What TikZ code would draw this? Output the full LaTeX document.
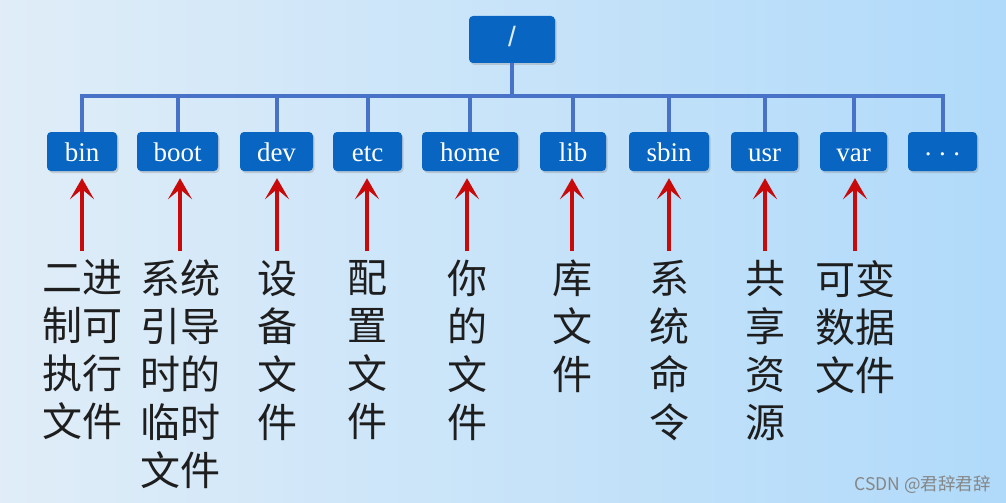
\documentclass[tikz,border=0pt]{standalone}
\usepackage{fontspec}
\setmainfont{Liberation Serif}
\newfontfamily\cjk{Noto Sans CJK SC}
\newfontfamily\slashfont{Liberation Sans}
\usetikzlibrary{arrows.meta,shadows}
\definecolor{boxblue}{RGB}{8,102,194}
\definecolor{linkblue}{RGB}{72,114,200}
\definecolor{arrowred}{RGB}{200,10,10}
\definecolor{txtdark}{RGB}{30,30,30}
\definecolor{bgL}{RGB}{224,237,248}
\definecolor{bgR}{RGB}{176,218,250}
\begin{document}
\begin{tikzpicture}[x=1pt,y=-1pt,
  dirbox/.style={draw=none, fill=boxblue, rounded corners=4pt, inner sep=0pt,
    minimum height=39pt, text=white, font=\fontsize{27}{30}\selectfont,
    text height=19pt, text depth=0pt,
    drop shadow={shadow xshift=1.5pt, shadow yshift=-2pt, opacity=0.3}},
  link/.style={draw=linkblue, line width=4pt},
  upar/.style={draw=arrowred, line width=4pt,
    -{Stealth[length=21pt,width=24pt,inset=10pt]},
    shorten >=7pt, shorten <=9pt},
  desc/.style={anchor=north, align=center, inner sep=0pt, text=txtdark,
    font=\cjk\fontsize{40}{48}\selectfont}
]
\shade[left color=bgL, right color=bgR] (0,0) rectangle (1006,503);
\useasboundingbox (0,0) rectangle (1006,503);

% root
\node[dirbox, minimum width=86pt, minimum height=47pt, text height=14pt,
  font=\slashfont\fontsize{28}{30}\selectfont, text=white!88!boxblue] (root) at (512,39.5) {/};
\coordinate (hub) at (512,96);

% children
\node[dirbox, minimum width=70pt] (bin)  at (82,151.5)  {bin};
\node[dirbox, minimum width=81pt] (boot) at (177.5,151.5) {boot};
\node[dirbox, minimum width=73pt] (dev)  at (276.5,151.5) {dev};
\node[dirbox, minimum width=69pt] (etc)  at (367.5,151.5) {etc};
\node[dirbox, minimum width=96pt] (home) at (470,151.5) {home};
\node[dirbox, minimum width=66pt] (lib)  at (573,151.5) {lib};
\node[dirbox, minimum width=80pt] (sbin) at (669,151.5) {sbin};
\node[dirbox, minimum width=67pt] (usr)  at (764.5,151.5) {usr};
\node[dirbox, minimum width=67pt] (var)  at (853.5,151.5) {var};
\node[dirbox, minimum width=69pt] (more) at (942.5,151.5) {\raisebox{0.2em}{.\hspace{0.28em}.\hspace{0.28em}.}};

% tree links
\draw[link] (root.south) -- (hub);
\foreach \c in {bin,boot,dev,etc,home,lib,sbin,usr,var,more}
  \draw[link] (hub) -| (\c.north);

% descriptions
\node[desc] (t-bin)  at (82,260)  {二进\\制可\\执行\\文件};
\node[desc] (t-boot) at (180,260) {系统\\引导\\时的\\临时\\文件};
\node[desc] (t-dev)  at (277,260) {设\\备\\文\\件};
\node[desc] (t-etc)  at (367,260) {配\\置\\文\\件};
\node[desc] (t-home) at (467,260) {你\\的\\文\\件};
\node[desc] (t-lib)  at (572,260) {库\\文\\件};
\node[desc] (t-sbin) at (669,260) {系\\统\\命\\令};
\node[desc] (t-usr)  at (765,260) {共\\享\\资\\源};
\node[desc] (t-var)  at (855,260) {可变\\数据\\文件};

% arrows
\foreach \c in {bin,boot,dev,etc,home,lib,sbin,usr,var}
  \draw[upar] (t-\c.north) -- (t-\c.north |- \c.south);

% watermark
\node[anchor=east, inner sep=0pt, text=gray!95, font=\cjk\fontsize{17.5}{20}\selectfont] (wm) at (991,485) {CSDN @君辞君辞};
\end{tikzpicture}
\end{document}
